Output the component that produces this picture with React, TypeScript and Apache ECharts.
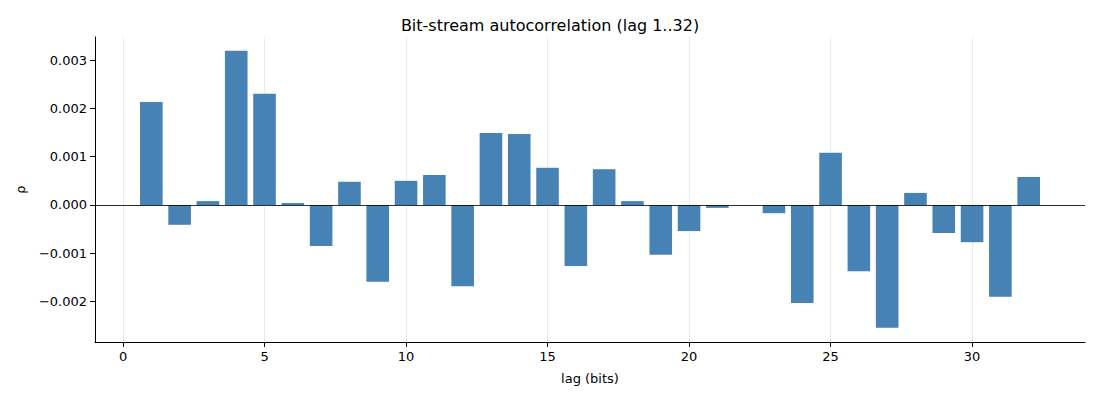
import React, { useEffect, useRef } from "react";
import * as echarts from "echarts";

const lags = [1,2,3,4,5,6,7,8,9,10,11,12,13,14,15,16,17,18,19,20,21,22,23,24,25,26,27,28,29,30,31,32];
const rho = [2.13,-0.41,0.08,3.19,2.30,0.04,-0.85,0.48,-1.59,0.50,0.62,-1.68,1.49,1.47,0.77,-1.26,0.74,0.08,-1.03,-0.54,-0.06,0.0,-0.17,-2.03,1.08,-1.37,-2.54,0.25,-0.58,-0.77,-1.90,0.58].map(v => v / 1000);
const xTicks = [0,5,10,15,20,25,30];
const yTicks = [-0.002,-0.001,0,0.001,0.002,0.003];

export default function App() {
  const ref = useRef<HTMLDivElement>(null);
  useEffect(() => {
    document.body.style.margin = "0";
    const chart = echarts.init(ref.current!, null, { renderer: "svg" });
    const grid = { type: "solid", color: "#e5e5e5", width: 0.8 };
    chart.setOption({
      animation: false,
      title: { text: "Bit-stream autocorrelation (lag 1..32)", left: "center", top: 12, textStyle: { fontSize: 16, fontWeight: "normal", color: "#000", fontFamily: "DejaVu Sans" } },
      grid: { left: 95, right: 15, top: 37, bottom: 58 },
      xAxis: {
        type: "value", min: -0.99, max: 33.99,
        name: "lag (bits)", nameLocation: "middle", nameGap: 30,
        nameTextStyle: { fontSize: 13, color: "#000", fontFamily: "DejaVu Sans" },
        axisLine: { onZero: false, lineStyle: { color: "#000" } },
        axisTick: { show: true, customValues: xTicks, lineStyle: { color: "#000" } },
        axisLabel: { customValues: xTicks, fontSize: 13, color: "#000", fontFamily: "DejaVu Sans" },
        splitLine: { show: false },
      },
      yAxis: {
        type: "value", min: -0.002835, max: 0.003476,
        name: "ρ", nameLocation: "middle", nameGap: 68, nameRotate: 90,
        nameTextStyle: { fontSize: 13, color: "#000", fontFamily: "DejaVu Sans" },
        axisLine: { show: true, onZero: false, lineStyle: { color: "#000" } },
        axisTick: { show: true, customValues: yTicks, lineStyle: { color: "#000" } },
        axisLabel: { customValues: yTicks, fontSize: 13, color: "#000", fontFamily: "DejaVu Sans",
          formatter: (v: number) => v.toFixed(3).replace("-", "\u2212") },
        splitLine: { show: false },
      },
      series: [{
        type: "bar",
        data: lags.map((l, i) => [l, rho[i]]),
        barWidth: 22.6,
        itemStyle: { color: "#4682b4" },
        markLine: {
          silent: true, symbol: "none", label: { show: false }, z: 0,
          data: [
            ...xTicks.map(x => ({ xAxis: x, lineStyle: grid })),
            ...yTicks.map(y => ({ yAxis: y, lineStyle: grid })),
          ],
        },
        z: 2,
      }, {
        type: "line", data: [], markLine: {
          silent: true, symbol: "none", label: { show: false },
          data: [{ yAxis: 0, lineStyle: { type: "solid", color: "#000", width: 0.8 } }],
        }, z: 5,
      }],
    });
    return () => chart.dispose();
  }, []);
  return <div ref={ref} style={{ width: 1100, height: 400 }} />;
}
